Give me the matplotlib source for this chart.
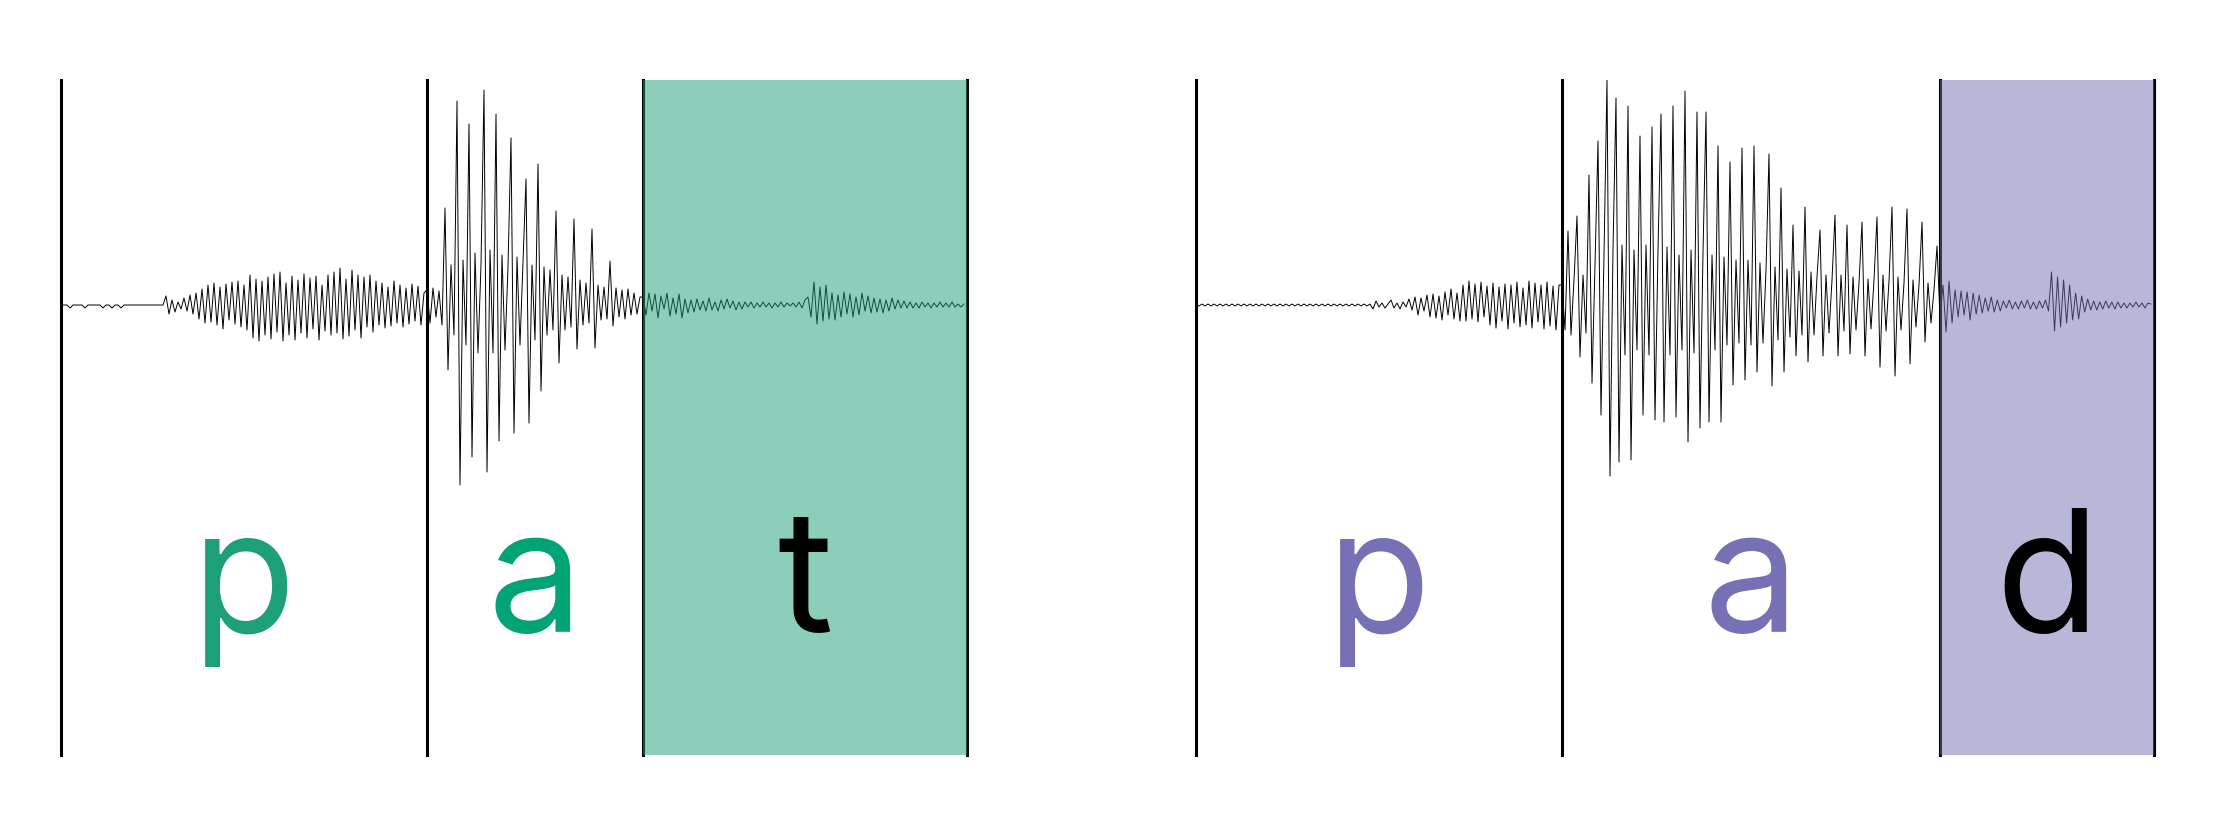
import numpy as np
import matplotlib.pyplot as plt

# phone boundaries in ms for each word
pat_bounds = [0, 183, 291, 453]
pad_bounds = [0, 183, 372, 479]
pat_labels = ["p", "a", "t"]
pad_labels = ["p", "a", "d"]

# waveform extremes (arbitrary units, + up), per phone
pat_p = [0, 0, 0, -3, 0, 0, 0, 0, -3, 0,
         0, 0, 0, 0, -3, 0, 0, -3, 0, 0,
         -3, 0, 0, 0, 0, 0, 0, 0, 0, 0,
         0, 0, 0, 0, 0, 9, -9, 5, -7, 3,
         -4, 7, -6, 10, -9, 12, -14, 16, -18, 20,
         -17, 22, -20, 18, -24, 21, -15, 23, -19, 24,
         -22, 20, -25, 30, -33, 26, -36, 24, -30, 28,
         -34, 31, -27, 33, -36, 22, -30, 29, -35, 25,
         -28, 31, -33, 27, -24, 29, -35, 20, -26, 30,
         -30, 33, -28, 37, -34, 26, -31, 35, -25, 30,
         -33, 28, -22, 30, -27, 24, -20, 22, -23, 18,
         -21, 24, -18, 20, -22, 17, -19, 21, -16, 19,
         -20, 12]
pat_a = [15, -18, 17, -12, 14, -20, 97, -65, 40, -30,
         204, -180, 45, -40, 181, -152, 52, -48, 40, 215,
         -167, 55, -48, 191, -136, 50, -45, 38, 167, -128,
         48, -40, 42, 126, -118, 40, -35, 141, -86, 38,
         -30, 35, -25, 94, -58, 30, -25, 28, -22, 86,
         -44, 25, -20, 22, -18, 76, -43, 20, -15, 18,
         -14, 44, -21, 17, -12, 15, -14, 16, -10, 12,
         -9, 8]
pat_t = [8, -10, 12, -6, 11, -13, 9, -4, 12, -11,
         7, -9, 11, -13, 6, -8, 5, -7, 6, -5,
         4, -6, 7, -5, 3, -6, 5, -4, 6, -3,
         4, -5, 3, -4, 3, -2, 3, -3, 2, -2,
         3, -2, 2, -3, 2, -2, 3, -2, 2, -1,
         2, -2, 3, -3, 5, 8, -12, 23, -19, 18,
         -16, 20, -14, 12, -15, 10, -12, 13, -9, 11,
         -12, 8, -10, 12, -6, 9, -8, 7, -7, 6,
         -8, 5, -6, 7, -4, 5, -3, 4, -3, 3,
         -3, 2, -3, 3, -2, 2, -3, 2, -2, 3,
         -2, 2, -2, 3, -2, 1, -2, 1]

pad_p = [1, -1, 1, -1, 1, -1, 1, -1, 1, -1,
         1, -1, 1, -1, 1, -1, 1, -1, 1, -1,
         1, -1, 1, -1, 1, -1, 1, -1, 1, -1,
         1, -1, 1, -1, 1, -1, 1, -1, 1, -1,
         1, -1, 1, -1, 1, -1, 1, -1, 1, -1,
         1, -1, 1, -1, 1, -1, 1, -1, 1, -4,
         4, -2, 2, -3, 1, 5, -3, 2, -4, 3,
         -2, 6, -5, 8, -10, 7, -6, 10, -12, 11,
         -13, 9, -15, 13, -10, 16, -14, 12, -16, 20,
         -16, 24, -14, 21, -17, 23, -12, 19, -20, 22,
         -23, 18, -16, 21, -24, 20, -18, 23, -22, 17,
         -20, 24, -23, 22, -17, 20, -24, 23, -21, 19,
         -25, 20]
pad_a = [20, -25, 74, -30, 25, 89, -52, 30, -28, 130,
         -78, 40, 164, -110, 50, 225, -171, 55, 207, -157,
         60, -50, 199, -155, 55, -45, 169, -110, 60, -50,
         178, -115, 55, 191, -117, 58, -50, 199, -112, 50,
         -45, 214, -137, 55, -48, 193, -123, 52, 193, -117,
         50, -45, 159, -117, 48, -40, 143, -80, 45, -38,
         157, -75, 45, -40, 159, -67, 42, -38, 35, 151,
         -81, 38, -35, 117, -67, 36, -32, 80, -51, 34,
         -30, 98, -57, 33, -30, 28, 75, -51, 30, -28,
         25, 90, -51, 30, -26, 80, -49, 28, -25, 22,
         83, -51, 26, -24, 25, 88, -62, 30, -26, 24,
         98, -71, 28, -25, 22, 96, -59, 25, -22, 20,
         83, -37, 22, -18, 15, 59]
pad_d = [-12, 20, -27, 24, -18, 15, -12, 14, -10, 13,
         -15, 12, -9, 10, -8, 7, -6, 8, -7, 5,
         -6, 4, -3, 5, -4, 3, -4, 4, -3, 5,
         -4, 3, -4, 4, -3, 5, -6, 33, -26, 28,
         -22, 25, -18, 20, -15, 12, -14, 9, -7, 6,
         -5, 4, -5, 3, -4, 4, -3, 3, -4, 3,
         -3, 2, -3, 2, -2, 3, -2, 2, -3, 2,
         1]

PX_PER_MS = 2.0
FIG_W, FIG_H = 2214, 834
TOP, BOTTOM = 80, 755


def draw_word(fig, left_px, bounds, labels, waves, colors, shade):
    width_px = (bounds[-1] - bounds[0]) * PX_PER_MS
    ax = fig.add_axes([left_px / FIG_W, 1 - BOTTOM / FIG_H,
                       width_px / FIG_W, (BOTTOM - TOP) / FIG_H])
    ax.set_xlim(bounds[0], bounds[-1])
    ax.set_ylim(-450, 225)
    ax.axis("off")

    # waveform, sample positions spread evenly over each phone
    xs, ys = [], []
    for i, w in enumerate(waves):
        xs.append(np.linspace(bounds[i], bounds[i + 1], len(w), endpoint=False))
        ys.append(np.asarray(w, dtype=float))
    ax.plot(np.concatenate(xs), np.concatenate(ys), color="black", lw=0.7, zorder=2)

    for b in bounds:
        ax.axvline(b, color="black", lw=2.2, zorder=1, clip_on=False)

    # final consonant gets shaded
    ax.axvspan(bounds[-2], bounds[-1], color=shade, alpha=0.5, lw=0, zorder=3)

    for i, lab in enumerate(labels):
        mid = (bounds[i] + bounds[i + 1]) / 2
        ax.text(mid, -327, lab, ha="center", va="baseline", fontsize=122,
                family=["Inter", "DejaVu Sans"], color=colors[i], zorder=4)
    return ax


fig = plt.figure(figsize=(FIG_W / 100, FIG_H / 100), dpi=100)
draw_word(fig, 61, pat_bounds, pat_labels, [pat_p, pat_a, pat_t],
          ["#1d9f78", "#02a374", "black"], "#1b9e77")
draw_word(fig, 1196, pad_bounds, pad_labels, [pad_p, pad_a, pad_d],
          ["#7670b4", "#7670b4", "black"], "#7570b3")
fig.savefig("out.png", dpi=100)
